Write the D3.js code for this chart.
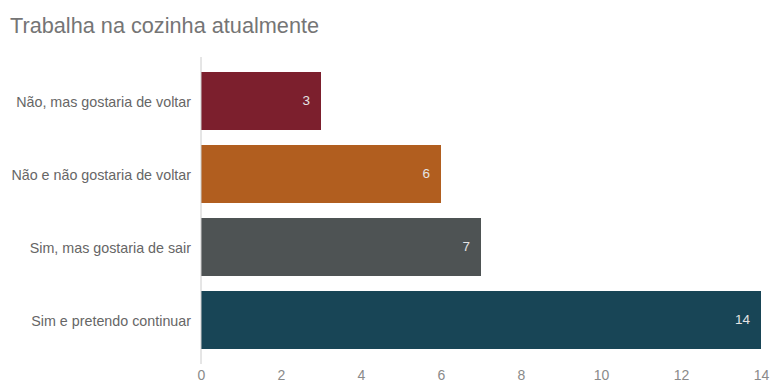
<!DOCTYPE html>
<html>
<head>
<meta charset="utf-8">
<script src="https://cdn.jsdelivr.net/npm/d3@7"></script>
<style>
  html, body { margin: 0; padding: 0; background: #fff; }
  svg { display: block; font-family: "Liberation Sans", Arial, sans-serif; }
</style>
</head>
<body>
<svg id="chart" width="771" height="383"></svg>
<script>
// Responses per category
const categories = [
  "Não, mas gostaria de voltar",
  "Não e não gostaria de voltar",
  "Sim, mas gostaria de sair",
  "Sim e pretendo continuar"
];
const values = [3, 6, 7, 14];
const barColors = ["#7c1f2d", "#b15e1f", "#4e5354", "#184556"];
const xTicks = [0, 2, 4, 6, 8, 10, 12, 14];
const title = "Trabalha na cozinha atualmente";

const svg = d3.select("#chart");
const fontFamily = "Liberation Sans, Arial, sans-serif";

const x = d3.scaleLinear().domain([0, 14]).range([201, 761]);
const y = d3.scaleBand().domain(categories).range([57, 364]).padding(0.2055);

// Title
svg.append("text")
  .attr("x", 10).attr("y", 33)
  .attr("font-size", 21.7)
  .attr("fill", "#757575")
  .text(title);

// Bars
svg.append("g").selectAll("rect")
  .data(categories)
  .join("rect")
  .attr("x", x(0))
  .attr("y", d => y(d))
  .attr("width", (d, i) => x(values[i]) - x(0))
  .attr("height", y.bandwidth())
  .attr("fill", (d, i) => barColors[i]);

// Value labels inside bar ends
svg.append("g").selectAll("text")
  .data(categories)
  .join("text")
  .attr("x", (d, i) => x(values[i]) - 11)
  .attr("y", d => y(d) + y.bandwidth() / 2)
  .attr("dy", "0.3em")
  .attr("text-anchor", "end")
  .attr("font-size", 13.5)
  .attr("fill", "#e4e4e4")
  .text((d, i) => values[i]);

// Baseline at zero
svg.append("line")
  .attr("x1", x(0)).attr("x2", x(0))
  .attr("y1", 57).attr("y2", 364)
  .attr("stroke", "#cccccc")
  .attr("stroke-width", 1);

// Category axis (labels only)
const yAxis = svg.append("g")
  .attr("transform", `translate(${x(0) - 10},0)`)
  .call(d3.axisLeft(y).tickSize(0).tickPadding(0));
yAxis.select(".domain").remove();
yAxis.selectAll("text")
  .attr("font-size", 14.3)
  .attr("dy", "0.4em")
  .attr("font-family", fontFamily)
  .attr("fill", "#666666");

// Value axis (labels only)
const xAxis = svg.append("g")
  .attr("transform", "translate(0,370)")
  .call(d3.axisBottom(x).tickValues(xTicks).tickSize(0).tickPadding(0));
xAxis.select(".domain").remove();
xAxis.selectAll("text")
  .attr("font-size", 14)
  .attr("font-family", fontFamily)
  .attr("fill", "#8a8a8a");
</script>
</body>
</html>
